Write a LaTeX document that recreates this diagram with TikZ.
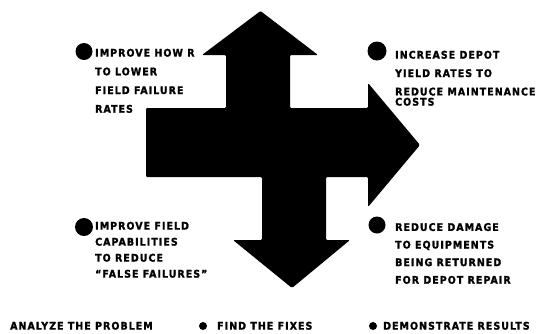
\documentclass[tikz,border=0pt]{standalone}
\usepackage{fontspec}
\setmainfont{DejaVu Sans Condensed}[BoldFont={DejaVu Sans Condensed Bold},BoldFeatures={FakeBold=1.5},LetterSpace=10]
\begin{document}
\begin{tikzpicture}[x=1pt,y=-1pt,
  lbl/.style={anchor=base west,inner sep=0pt,align=left,font=\bfseries\fontsize{10.5}{#1}\selectfont},
  lbl/.default=18.5,
  dot/.style={fill=black,circle,inner sep=0pt,minimum size=#1},
  dot/.default=17pt]
\useasboundingbox (0,0) rectangle (549,333);
% the four-way arrow
\fill[black,rounded corners=1.2pt]
  (146,108) -- (226,108) -- (226,55) -- (202,55) -- (260.5,11) -- (318,55)
  -- (290,55) -- (290,108) -- (368,108) -- (368,83) -- (420,145) -- (368,207)
  -- (368,177) -- (326,177) -- (326,240) -- (350,240) -- (292,288) -- (233,240)
  -- (262,240) -- (262,177) -- (146,177) -- cycle;
% upper left (anchor = baseline of the last line)
\node[dot] (d1) at (84,51.5) {};
\node[lbl=18.7] (t1) at (95,112.7) {IMPROVE HOW R\\TO LOWER\\FIELD FAILURE\\RATES};
% upper right
\node[dot=19pt] (d2) at (377,51) {};
\node[lbl=18.4] (t2) at (395,95.4) {INCREASE DEPOT\\YIELD RATES TO\\REDUCE MAINTENANCE};
\node[lbl] (t2b) at (395,105.6) {COSTS};
% lower left
\node[dot=18pt] (d3) at (84,227) {};
\node[lbl=16] (t3) at (95,277.6) {IMPROVE FIELD\\CAPABILITIES\\TO REDUCE\\``FALSE FAILURES''};
% lower right
\node[dot] (d4) at (377,225) {};
\node[lbl=17.6] (t4) at (395,283.7) {REDUCE DAMAGE\\TO EQUIPMENTS\\BEING RETURNED\\FOR DEPOT REPAIR};
% bottom row
\node[lbl] (b1) at (10,329.6) {ANALYZE THE PROBLEM};
\node[dot=8pt] (bd2) at (203,326) {};
\node[lbl] (b2) at (217,329.6) {FIND THE FIXES};
\node[dot=8pt] (bd3) at (373,326) {};
\node[lbl] (b3) at (383,329.6) {DEMONSTRATE RESULTS};
\end{tikzpicture}
\end{document}
